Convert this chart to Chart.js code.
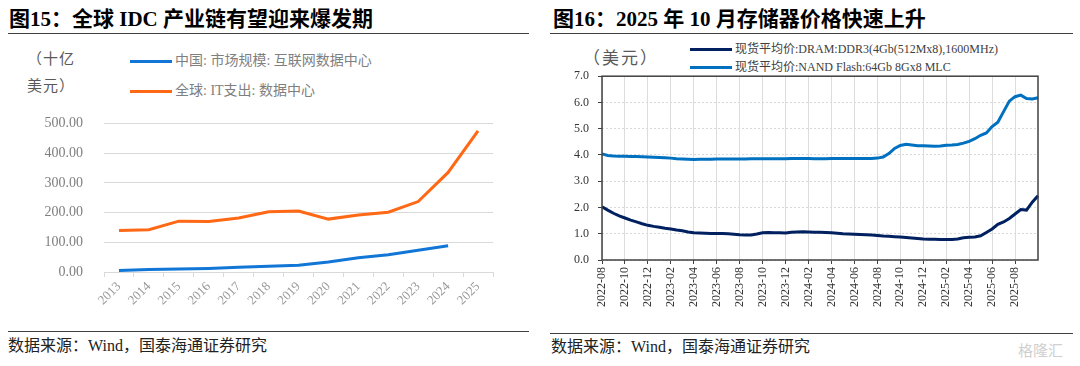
<!DOCTYPE html>
<html>
<head>
<meta charset="utf-8">
<script src="https://cdn.jsdelivr.net/npm/chart.js@4.4.1/dist/chart.umd.min.js"></script>
<style>
body { margin: 0; width: 1080px; height: 366px; background: #fff; position: relative; overflow: hidden;
  font-family: "Liberation Serif", "Noto Sans CJK SC", serif; }
.abs { position: absolute; white-space: nowrap; }
.title { font-size: 21px; font-weight: bold; color: #000; line-height: 24px; }
.rule { position: absolute; height: 0; border-top: 1.5px solid #404040; }
.src { font-size: 16px; color: #222; line-height: 20px; }
.unit { font-size: 15px; color: #595959; line-height: 18px; letter-spacing: 1px; }
.leg { font-size: 14px; color: #7f7f7f; line-height: 16px; }
.leg2 { font-size: 12px; color: #404040; line-height: 14px; }
.sw { position: absolute; height: 3px; }
</style>
</head>
<body>
<div class="abs title" style="left:9px;top:7px;">图15：全球 IDC 产业链有望迎来爆发期</div>
<div class="rule" style="left:8px;top:33px;width:521px;"></div>
<div class="abs unit" style="left:27px;top:50px;">（十亿</div>
<div class="abs unit" style="left:27px;top:77px;">美元）</div>
<div class="sw" style="left:130px;top:60px;width:42px;background:rgb(18,118,214);"></div>
<div class="abs leg" style="left:175px;top:53px;">中国: 市场规模: 互联网数据中心</div>
<div class="sw" style="left:130px;top:90px;width:42px;background:rgb(255,104,20);"></div>
<div class="abs leg" style="left:175px;top:83px;">全球: IT支出: 数据中心</div>
<div class="abs" style="left:0;top:94px;width:540px;height:237px;"><canvas id="c1"></canvas></div>
<div class="rule" style="left:8px;top:331px;width:521px;"></div>
<div class="abs src" style="left:8px;top:336px;">数据来源：Wind，国泰海通证券研究</div>

<div class="abs title" style="left:553px;top:7px;">图16：2025 年 10 月存储器价格快速上升</div>
<div class="rule" style="left:550px;top:33px;width:523px;"></div>
<div class="abs unit" style="left:583px;top:50px;font-size:17px;letter-spacing:2px;">（美元）</div>
<div class="sw" style="left:690px;top:48px;width:42px;background:rgb(0,32,96);"></div>
<div class="abs leg2" style="left:735px;top:42px;">现货平均价:DRAM:DDR3(4Gb(512Mx8),1600MHz)</div>
<div class="sw" style="left:690px;top:66px;width:42px;background:rgb(0,112,192);"></div>
<div class="abs leg2" style="left:735px;top:60px;">现货平均价:NAND Flash:64Gb 8Gx8 MLC</div>
<div class="abs" style="left:540px;top:60px;width:540px;height:270px;"><canvas id="c2"></canvas></div>
<div class="rule" style="left:550px;top:333px;width:523px;"></div>
<div class="abs src" style="left:551px;top:337px;">数据来源：Wind，国泰海通证券研究</div>
<div class="abs" style="left:1018px;top:339px;font-size:15px;color:#cfcfcf;font-family:'Noto Sans CJK SC';">格隆汇</div>

<script>
// 图15 data (十亿美元)
var idcYears = ['2013','2014','2015','2016','2017','2018','2019','2020','2021','2022','2023','2024','2025'];
var chinaIdc = [5, 8, 10, 12, 16, 19, 23, 34, 48, 58, 73, 88, null];
var globalIt = [140, 142, 171, 170, 182, 203, 205, 178, 192, 201, 237, 335, 475];

// 图16 data (美元), half-month observations
var memDates = [
  '2022-08-01','2022-08-16','2022-09-01','2022-09-16','2022-10-01','2022-10-16','2022-11-01','2022-11-16','2022-12-01','2022-12-16',
  '2023-01-01','2023-01-16','2023-02-01','2023-02-16','2023-03-01','2023-03-16','2023-04-01','2023-04-16','2023-05-01','2023-05-16',
  '2023-06-01','2023-06-16','2023-07-01','2023-07-16','2023-08-01','2023-08-16','2023-09-01','2023-09-16','2023-10-01','2023-10-16',
  '2023-11-01','2023-11-16','2023-12-01','2023-12-16','2024-01-01','2024-01-16','2024-02-01','2024-02-16','2024-03-01','2024-03-16',
  '2024-04-01','2024-04-16','2024-05-01','2024-05-16','2024-06-01','2024-06-16','2024-07-01','2024-07-16','2024-08-01','2024-08-16',
  '2024-09-01','2024-09-16','2024-10-01','2024-10-16','2024-11-01','2024-11-16','2024-12-01','2024-12-16','2025-01-01','2025-01-16',
  '2025-02-01','2025-02-16','2025-03-01','2025-03-16','2025-04-01','2025-04-16','2025-05-01','2025-05-16','2025-06-01','2025-06-16',
  '2025-07-01','2025-07-16','2025-08-01','2025-08-16','2025-09-01','2025-09-16','2025-10-01'
];
var dramDdr3 = [
  2.03, 1.90, 1.78, 1.68, 1.60, 1.52, 1.45, 1.38, 1.32, 1.28,
  1.25, 1.21, 1.18, 1.14, 1.11, 1.07, 1.04, 1.03, 1.02, 1.01,
  1.01, 1.01, 1.00, 0.98, 0.96, 0.95, 0.95, 0.99, 1.04, 1.05,
  1.04, 1.04, 1.03, 1.06, 1.07, 1.08, 1.07, 1.06, 1.06, 1.05,
  1.04, 1.02, 1.00, 0.99, 0.98, 0.97, 0.96, 0.95, 0.93, 0.91,
  0.90, 0.89, 0.88, 0.86, 0.84, 0.82, 0.80, 0.79, 0.79, 0.78,
  0.78, 0.78, 0.80, 0.85, 0.87, 0.88, 0.92, 1.05, 1.18, 1.36,
  1.45, 1.58, 1.75, 1.92, 1.90, 2.20, 2.45
];
var nandMlc = [
  4.04, 3.98, 3.96, 3.95, 3.95, 3.94, 3.94, 3.93, 3.92, 3.91,
  3.90, 3.89, 3.88, 3.86, 3.85, 3.84, 3.83, 3.84, 3.84, 3.84,
  3.85, 3.85, 3.85, 3.85, 3.85, 3.85, 3.86, 3.86, 3.86, 3.86,
  3.86, 3.86, 3.86, 3.87, 3.87, 3.87, 3.87, 3.86, 3.86, 3.86,
  3.87, 3.87, 3.87, 3.87, 3.87, 3.87, 3.87, 3.87, 3.88, 3.92,
  4.05, 4.25, 4.36, 4.41, 4.38, 4.35, 4.35, 4.34, 4.33, 4.34,
  4.37, 4.38, 4.40, 4.45, 4.52, 4.62, 4.75, 4.84, 5.08, 5.25,
  5.65, 6.05, 6.22, 6.28, 6.15, 6.13, 6.18
];

var serif = '"Liberation Serif", "Noto Sans CJK SC", serif';
Chart.defaults.font.family = serif;
Chart.defaults.animation = false;

new Chart(document.getElementById('c1'), {
  type: 'line',
  data: {
    labels: idcYears,
    datasets: [
      { data: chinaIdc, borderColor: 'rgb(18,118,214)', borderWidth: 3, pointRadius: 0, tension: 0 },
      { data: globalIt, borderColor: 'rgb(255,104,20)', borderWidth: 3, pointRadius: 0, tension: 0 }
    ]
  },
  options: {
    responsive: true, maintainAspectRatio: false,
    layout: { padding: { top: 16, right: 47, left: 0, bottom: 0 } },
    plugins: { legend: { display: false }, tooltip: { enabled: false } },
    scales: {
      x: {
        offset: true,
        grid: { offset: true, drawOnChartArea: false, drawTicks: true, tickLength: 5, color: '#d9d9d9' },
        border: { color: '#d9d9d9', width: 1 },
        ticks: { color: '#999', font: { size: 13 }, minRotation: 45, maxRotation: 45, padding: 2, autoSkip: false },
        afterFit: function (s) { s.height = 59; }
      },
      y: {
        min: 0, max: 500,
        ticks: { stepSize: 100, color: '#7f7f7f', font: { size: 14 }, padding: 21,
          callback: function (v) { return v.toFixed(2); } },
        grid: { color: '#d9d9d9', drawTicks: false },
        border: { display: false },
        afterFit: function (s) { s.width = 104; }
      }
    }
  }
});

var boxPlugin = {
  id: 'box',
  afterDatasetsDraw: function (chart) {
    var a = chart.chartArea, ctx = chart.ctx;
    ctx.save();
    ctx.strokeStyle = '#404040';
    ctx.lineWidth = 1.5;
    ctx.strokeRect(a.left, a.top, a.right - a.left, a.bottom - a.top);
    ctx.restore();
  }
};

new Chart(document.getElementById('c2'), {
  type: 'line',
  data: {
    labels: memDates,
    datasets: [
      { data: dramDdr3, borderColor: 'rgb(0,32,96)', borderWidth: 3, pointRadius: 0, tension: 0 },
      { data: nandMlc, borderColor: 'rgb(0,112,192)', borderWidth: 3, pointRadius: 0, tension: 0 }
    ]
  },
  options: {
    responsive: true, maintainAspectRatio: false,
    layout: { padding: { top: 14, right: 42, left: 0, bottom: 0 } },
    plugins: { legend: { display: false }, tooltip: { enabled: false } },
    scales: {
      x: {
        grid: { color: '#dcdcdc', tickColor: '#404040', tickLength: 4 },
        border: { display: false },
        ticks: {
          autoSkip: false, minRotation: 90, maxRotation: 90, padding: 3,
          color: '#333', font: { size: 12 },
          callback: function (v) {
            var d = this.getLabelForValue(v);
            var mo = parseInt(d.slice(5, 7), 10);
            if (d.slice(8) === '01' && mo % 2 === 0 && v < memDates.length - 1) return d.slice(0, 7);
            return null;
          }
        },
        afterFit: function (s) { s.height = 70; }
      },
      y: {
        min: 0, max: 7,
        ticks: { stepSize: 1, color: '#333', font: { size: 12 }, padding: 9,
          callback: function (v) { return v.toFixed(1); } },
        grid: { color: '#d9d9d9', tickColor: '#404040', tickLength: 4, tickBorderDash: [] },
        border: { display: false, dash: [2, 2] },
        afterFit: function (s) { s.width = 62; }
      }
    }
  },
  plugins: [boxPlugin]
});
</script>
</body>
</html>
